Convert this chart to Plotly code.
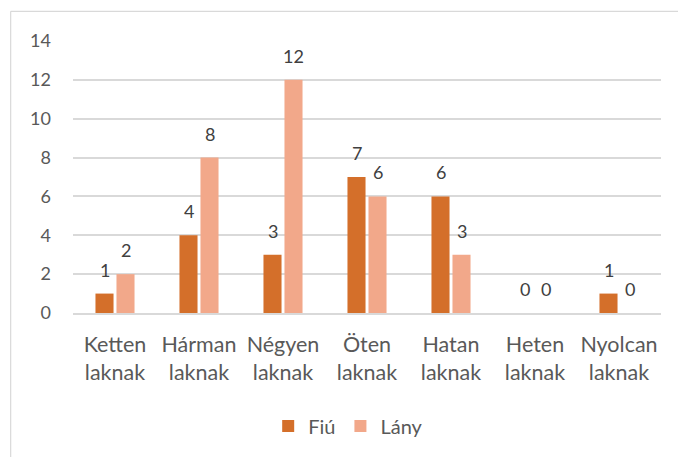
import plotly.graph_objects as go

categories = ["Ketten<br>laknak", "Hárman<br>laknak", "Négyen<br>laknak", "Öten<br>laknak",
              "Hatan<br>laknak", "Heten<br>laknak", "Nyolcan<br>laknak"]
fiu = [1, 4, 3, 7, 6, 0, 1]
lany = [2, 8, 12, 6, 3, 0, 0]
y_ticks = [0, 2, 4, 6, 8, 10, 12, 14]

FONT = "Lato"
C_FIU = "#D46F2A"
C_LANY = "#F2A88A"

fig = go.Figure()
fig.add_trace(go.Bar(name="Fiú", x=categories, y=fiu, marker_color=C_FIU,
                     marker_line_width=0))
fig.add_trace(go.Bar(name="Lány", x=categories, y=lany, marker_color=C_LANY,
                     marker_line_width=0))

annotations = []
for series, shift in ((fiu, -10.5), (lany, 10.5)):
    for c, v in zip(categories, series):
        annotations.append(dict(x=c, y=v, xref="x", yref="y", text=str(v),
                                showarrow=False, yanchor="bottom", xanchor="center",
                                xshift=shift, yshift=11,
                                font=dict(family=FONT, size=18, color="#404040")))

border = dict(type="line", xref="paper", yref="paper",
              line=dict(color="#D9D9D9", width=1.2), layer="below")

fig.update_layout(
    width=678, height=457,
    margin=dict(l=73, r=17, t=41, b=144),
    paper_bgcolor="white", plot_bgcolor="white",
    barmode="group", bargap=0.5, bargroupgap=0.14,
    font=dict(family=FONT, color="#595959"),
    showlegend=True,
    legend=dict(orientation="h", x=0.468, xanchor="center", y=-0.415, yanchor="middle",
                font=dict(family=FONT, size=20, color="#595959"),
                itemwidth=30, traceorder="normal"),
    annotations=annotations,
    shapes=[dict(border, x0=-0.106, x1=1.2, y0=1.109, y1=1.109),
            dict(border, x0=-0.106, x1=-0.106, y0=-1.0, y1=1.109)],
)
fig.update_xaxes(showgrid=False, showline=True, linecolor="#D9D9D9", linewidth=1.5,
                 ticks="", tickfont=dict(family=FONT, size=21.5, color="#595959"),
                 ticklabelstandoff=11)
fig.update_yaxes(range=[0, 14], tickvals=y_ticks, showgrid=True, gridcolor="#D9D9D9",
                 gridwidth=1.5, zeroline=False, showline=False, ticks="",
                 tickfont=dict(family=FONT, size=18, color="#595959"),
                 ticklabelstandoff=21)

fig.write_html("out.html", config={"displayModeBar": False},
               post_script="document.body.style.margin='0';document.body.style.overflow='hidden';")
